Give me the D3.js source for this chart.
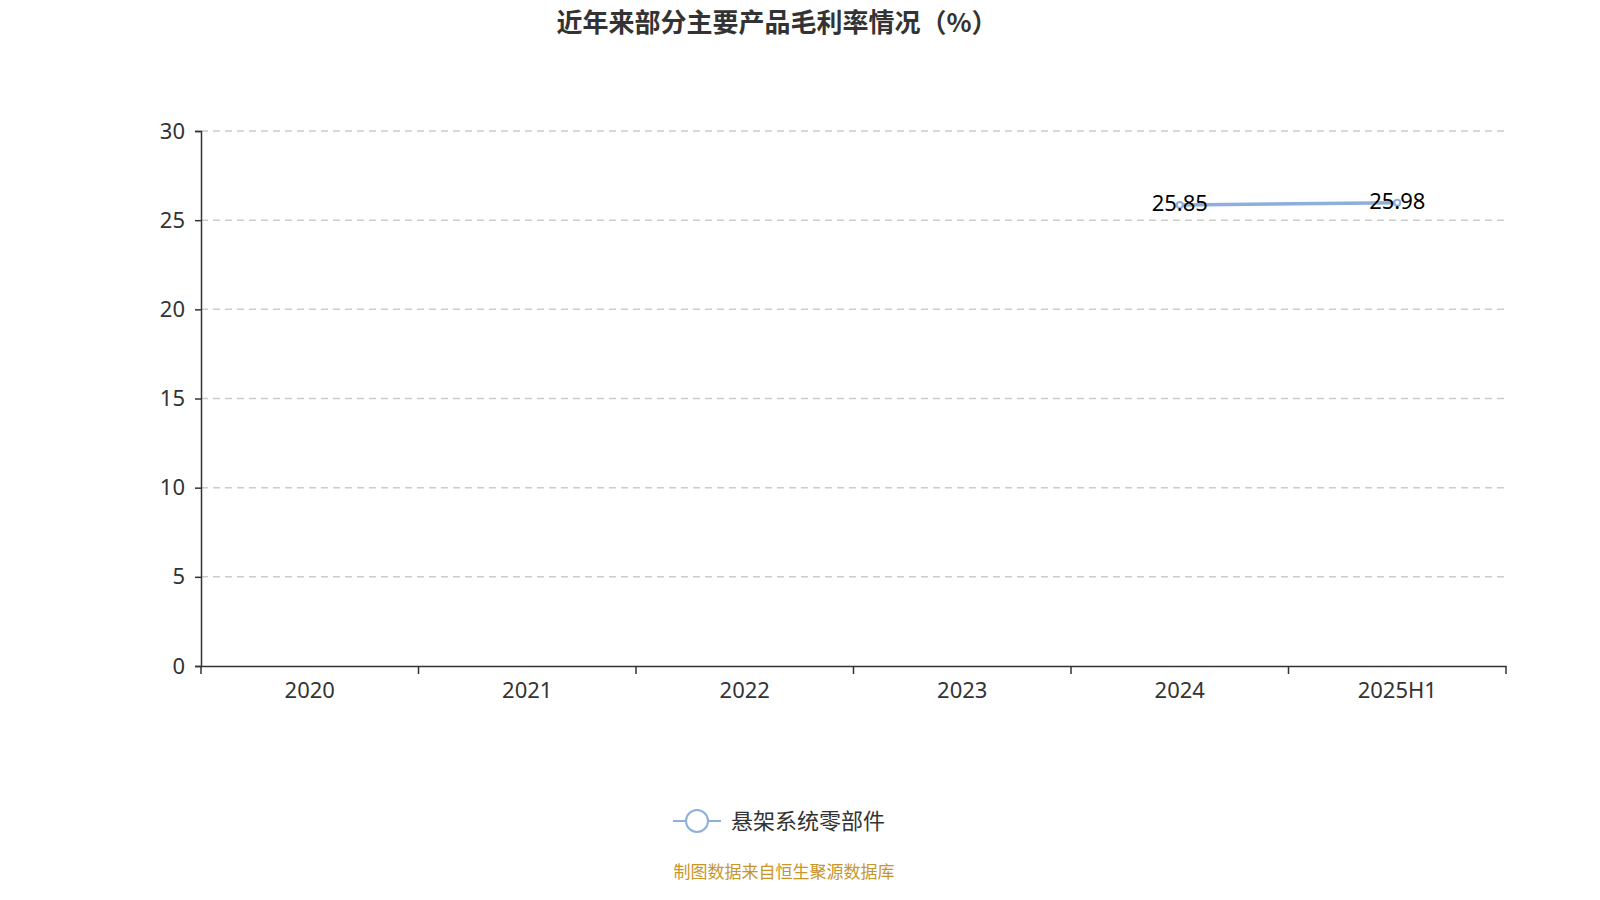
<!DOCTYPE html>
<html><head><meta charset="utf-8">
<script src="https://cdn.jsdelivr.net/npm/d3@7"></script>
<style>body{margin:0;background:#fff}svg{font-family:"Noto Sans CJK SC","Noto Sans",sans-serif}</style>
</head><body><svg id="c" width="1600" height="900"></svg>
<script>
const categories=["2020","2021","2022","2023","2024","2025H1"];
const seriesName="悬架系统零部件";
const values=[null,null,null,null,25.85,25.98];
const yTicks=[0,5,10,15,20,25,30];
const svg=d3.select("#c");
const L=201,R=1506,T=131,B=666;
const x=d3.scaleBand().domain(categories).range([L,R]);
const y=d3.scaleLinear().domain([0,30]).range([B,T]);
svg.append("text").attr("x",777).attr("y",32).attr("text-anchor","middle").attr("font-size",26).attr("font-weight","bold").attr("fill","#333").text("近年来部分主要产品毛利率情况（%）");
svg.append("g").selectAll("line").data(yTicks.slice(1)).join("line").attr("x1",L).attr("x2",R).attr("y1",d=>y(d)).attr("y2",d=>y(d)).attr("stroke","#ccc").attr("stroke-width",1.5).attr("stroke-dasharray","7,5");
const ya=svg.append("g").attr("transform",`translate(${L},0)`).call(d3.axisLeft(y).tickValues(yTicks).tickSize(6).tickPadding(10));
ya.selectAll("text").attr("font-size",22).attr("fill","#333").attr("font-family","'Noto Sans',sans-serif");
ya.selectAll("line,path").attr("stroke","#333").attr("stroke-width",1.5);
const xa=svg.append("g").attr("transform",`translate(0,${B})`).call(d3.axisBottom(x).tickSizeOuter(0).tickSize(0).tickPadding(16));
xa.selectAll("text").attr("font-size",22).attr("fill","#333").attr("font-family","'Noto Sans',sans-serif");
xa.selectAll("path").attr("stroke","#333").attr("stroke-width",1.5);
xa.selectAll(".b").data(d3.range(categories.length+1)).join("line").attr("x1",i=>L+i*x.step()).attr("x2",i=>L+i*x.step()).attr("y1",0).attr("y2",8).attr("stroke","#333").attr("stroke-width",1.5);
const cx=d=>x(d)+x.bandwidth()/2;
const pts=categories.map((c,i)=>({c,v:values[i]})).filter(d=>d.v!=null);
svg.append("path").datum(pts).attr("fill","none").attr("stroke","#8eaedc").attr("stroke-width",3.5).attr("d",d3.line().x(d=>cx(d.c)).y(d=>y(d.v)));
svg.selectAll(".pt").data(pts).join("circle").attr("cx",d=>cx(d.c)).attr("cy",d=>y(d.v)).attr("r",3).attr("fill","#fff").attr("stroke","#8eaedc").attr("stroke-width",2);
svg.selectAll(".lb").data(pts).join("text").attr("x",d=>cx(d.c)).attr("y",d=>y(d.v)+6).attr("text-anchor","middle").attr("font-size",22).attr("fill","#000").attr("font-family","'Noto Sans',sans-serif").text(d=>d.v.toFixed(2));
svg.append("line").attr("x1",673).attr("x2",721).attr("y1",821).attr("y2",821).attr("stroke","#8eaedc").attr("stroke-width",2);
svg.append("circle").attr("cx",697).attr("cy",821).attr("r",11).attr("fill","#fff").attr("stroke","#8eaedc").attr("stroke-width",2);
svg.append("text").attr("x",731).attr("y",829).attr("font-size",22).attr("fill","#333").text(seriesName);
svg.append("text").attr("x",784).attr("y",878).attr("text-anchor","middle").attr("font-size",17).attr("fill","#c8952a").text("制图数据来自恒生聚源数据库");
</script></body></html>
